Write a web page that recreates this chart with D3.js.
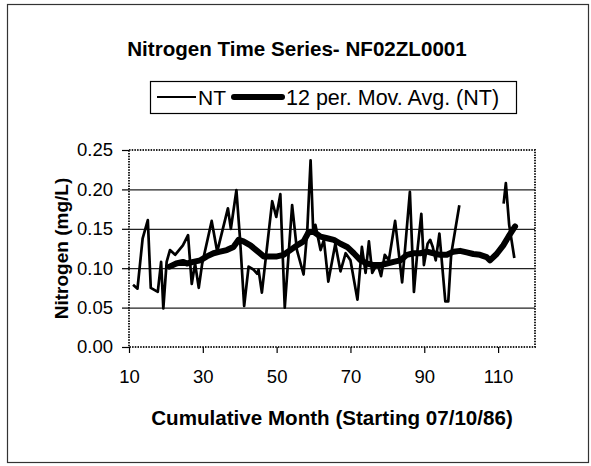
<!DOCTYPE html>
<html>
<head>
<meta charset="utf-8">
<script src="https://cdn.jsdelivr.net/npm/d3@7"></script>
<style>
  body { margin: 0; background: #fff; }
  svg text { font-family: "Liberation Sans", Arial, sans-serif; fill: #000; }
</style>
</head>
<body>
<div id="chart"></div>
<script>
// NT measurements (cumulative month, mg/L); null = no sample (gap in the line)
const ntMonths = [11.1, 12.3, 13.7, 15.1, 15.9, 17.8, 18.7, 19.3, 20.2, 21.1, 22.5, 24.6, 26.0, 27.0, 27.9, 28.9, 29.8,
  32.4, 33.9, 36.8, 37.6, 39.1, 40.1, 41.2, 42.4, 43.8, 44.7, 45.1, 46.0, 48.8, 49.9, 51.0, 52.2, 54.2, 55.5, 57.3,
  58.3, 59.2, 59.9, 60.5, 61.9, 62.8, 64.0, 65.9, 67.3, 68.7, 70.0, 71.9, 73.1, 74.1, 75.0, 75.9, 77.3, 78.3, 79.3,
  80.4, 82.1, 84.0, 84.8, 86.1, 87.2, 88.2, 89.2, 89.9, 90.9, 91.6, 92.3, 93.1, 94.1, 95.7, 96.5, 97.3, 99.5,
  105, 111.5, 112.1, 113.0, 114.4];
const ntValues = [0.079, 0.074, 0.138, 0.161, 0.075, 0.070, 0.108, 0.049, 0.108, 0.123, 0.117, 0.129, 0.142, 0.080, 0.106, 0.075, 0.105,
  0.160, 0.121, 0.176, 0.150, 0.199, 0.136, 0.052, 0.102, 0.098, 0.093, 0.098, 0.069, 0.185, 0.165, 0.194, 0.050, 0.180, 0.123, 0.092,
  0.148, 0.237, 0.148, 0.155, 0.123, 0.136, 0.083, 0.131, 0.096, 0.119, 0.110, 0.060, 0.127, 0.094, 0.134, 0.094, 0.106, 0.090, 0.117,
  0.110, 0.160, 0.082, 0.125, 0.197, 0.070, 0.125, 0.169, 0.104, 0.131, 0.136, 0.127, 0.110, 0.144, 0.058, 0.058, 0.118, 0.180,
  null, 0.182, 0.208, 0.155, 0.113];

// 12 period moving average, as drawn
const maMonths = [21.0, 22.8, 24.6, 25.7, 27.4, 29.3, 31.1, 32.9, 34.7, 36.5, 38.3, 39.7, 41.0, 42.9, 44.7, 46.5, 48.3,
  50.1, 51.9, 53.7, 55.5, 57.3, 58.7, 60.1, 61.9, 63.7, 65.5, 67.3, 69.1, 70.9, 72.7, 74.5, 76.3, 78.1, 79.9, 81.7,
  83.5, 85.3, 87.1, 88.9, 90.7, 92.5, 94.3, 96.1, 97.9, 99.7, 101.5, 103.3, 105.1, 106.9, 107.8, 109.6, 111.4, 112.8, 114.6];
const maValues = [0.102, 0.106, 0.108, 0.106, 0.108, 0.110, 0.115, 0.119, 0.121, 0.123, 0.127, 0.136, 0.134, 0.129, 0.122, 0.115, 0.115,
  0.115, 0.117, 0.123, 0.129, 0.134, 0.146, 0.146, 0.140, 0.138, 0.136, 0.131, 0.127, 0.119, 0.110, 0.106, 0.104, 0.104, 0.106, 0.108,
  0.110, 0.117, 0.119, 0.119, 0.121, 0.119, 0.117, 0.117, 0.121, 0.122, 0.120, 0.118, 0.117, 0.114, 0.110, 0.118, 0.129, 0.140, 0.153];

const xTicks = [10, 30, 50, 70, 90, 110];
const yTicks = [0, 0.05, 0.10, 0.15, 0.20, 0.25];

const W = 591, H = 466;
const plot = { left: 129, right: 535, top: 150, bottom: 347 };

const svg = d3.select('#chart')
              .append('svg')
              .attr('width', W)
              .attr('height', H)

// outer chart frame
svg.append('rect')
   .attr('x', 7.5).attr('y', 4.5)
   .attr('width', 581).attr('height', 458)
   .attr('fill', 'none')
   .attr('stroke', '#333')
   .attr('stroke-width', 1.2)

const x = d3.scaleLinear().domain([10, 120]).range([plot.left, plot.right]);
const y = d3.scaleLinear().domain([0, 0.25]).range([plot.bottom, plot.top]);

// gridlines
svg.append('g')
   .attr('transform', `translate(${plot.left},0)`)
   .call(d3.axisLeft(y).tickValues(yTicks.slice(1, -1)).tickSize(-(plot.right - plot.left)).tickFormat(''))
   .call(g => g.select('.domain').remove())
   .call(g => g.selectAll('line').attr('stroke', '#222').attr('stroke-width', 1.2))

// plot area border (dotted)
svg.append('rect')
   .attr('x', plot.left).attr('y', plot.top)
   .attr('width', plot.right - plot.left).attr('height', plot.bottom - plot.top)
   .attr('fill', 'none')
   .attr('stroke', '#222')
   .attr('stroke-width', 2)
   .attr('stroke-dasharray', '1.5,1.2')

// y axis
svg.append('g')
   .attr('transform', `translate(${plot.left},0)`)
   .call(d3.axisLeft(y).tickValues(yTicks).tickFormat(d3.format('.2f')).tickSize(7).tickPadding(9))
   .call(g => g.select('.domain').remove())
   .call(g => g.selectAll('line').attr('stroke', '#000').attr('stroke-width', 1.2))
   .call(g => g.selectAll('text').attr('font-size', 18.5).attr('font-family', '"Liberation Sans", Arial, sans-serif'))

// x axis
svg.append('g')
   .attr('transform', `translate(0,${plot.bottom})`)
   .call(d3.axisBottom(x).tickValues(xTicks).tickSize(6).tickPadding(17))
   .call(g => g.select('.domain').remove())
   .call(g => g.selectAll('line').attr('stroke', '#000').attr('stroke-width', 1.2))
   .call(g => g.selectAll('text').attr('font-size', 18.5).attr('font-family', '"Liberation Sans", Arial, sans-serif'))

// series
const ntData = ntMonths.map((m, i) => ({ m, v: ntValues[i] }));
const maData = maMonths.map((m, i) => ({ m, v: maValues[i] }));

const line = d3.line()
               .defined(d => d.v !== null)
               .x(d => x(d.m))
               .y(d => y(d.v))

svg.append('path')
   .datum(ntData)
   .attr('d', line)
   .attr('fill', 'none')
   .attr('stroke', '#000')
   .attr('stroke-width', 2.7)
   .attr('stroke-linejoin', 'round')

svg.append('path')
   .datum(maData)
   .attr('d', line)
   .attr('fill', 'none')
   .attr('stroke', '#000')
   .attr('stroke-width', 6)
   .attr('stroke-linejoin', 'round')
   .attr('stroke-linecap', 'round')

// title
svg.append('text')
   .attr('x', 297).attr('y', 56)
   .attr('text-anchor', 'middle')
   .attr('font-size', 20.6).attr('font-weight', 'bold')
   .text('Nitrogen Time Series- NF02ZL0001')

// legend
const legend = svg.append('g')
legend.append('rect')
      .attr('x', 150.5).attr('y', 81.5)
      .attr('width', 366).attr('height', 32)
      .attr('fill', '#fff').attr('stroke', '#000').attr('stroke-width', 1.2)
legend.append('line')
      .attr('x1', 157).attr('x2', 196).attr('y1', 97).attr('y2', 97)
      .attr('stroke', '#000').attr('stroke-width', 2.2)
legend.append('text')
      .attr('x', 198).attr('y', 104.5)
      .attr('font-size', 21)
      .text('NT')
legend.append('line')
      .attr('x1', 234).attr('x2', 282).attr('y1', 97).attr('y2', 97)
      .attr('stroke', '#000').attr('stroke-width', 6).attr('stroke-linecap', 'round')
legend.append('text')
      .attr('x', 286).attr('y', 104.5)
      .attr('font-size', 21.5)
      .text('12 per. Mov. Avg. (NT)')

// axis titles
svg.append('text')
   .attr('x', (plot.left + plot.right) / 2).attr('y', 425)
   .attr('text-anchor', 'middle')
   .attr('font-size', 20.6).attr('font-weight', 'bold')
   .text('Cumulative Month (Starting 07/10/86)')

svg.append('text')
   .attr('transform', `translate(68,${(plot.top + plot.bottom) / 2}) rotate(-90)`)
   .attr('text-anchor', 'middle')
   .attr('font-size', 19).attr('font-weight', 'bold')
   .text('Nitrogen (mg/L)')
</script>
</body>
</html>
